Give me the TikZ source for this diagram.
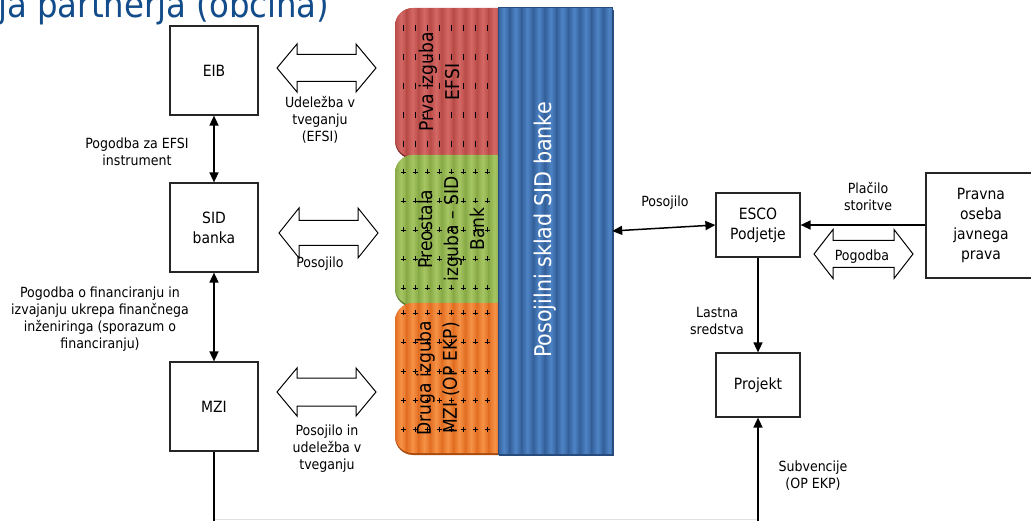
\documentclass[tikz,border=0pt]{standalone}
\usepackage{fontspec}
\setmainfont{DejaVu Sans Condensed}
\usetikzlibrary{arrows.meta}
\definecolor{titleblue}{RGB}{19,76,138}
\definecolor{redbase}{RGB}{186,76,72}
\definecolor{redlight}{RGB}{212,104,100}
\definecolor{reddark}{RGB}{130,45,42}
\definecolor{grnbase}{RGB}{136,170,70}
\definecolor{grnlight}{RGB}{166,198,100}
\definecolor{grndark}{RGB}{95,125,45}
\definecolor{orgbase}{RGB}{226,110,34}
\definecolor{orglight}{RGB}{246,146,70}
\definecolor{orgdark}{RGB}{170,75,15}
\definecolor{blubase}{RGB}{52,96,154}
\definecolor{blulight}{RGB}{78,132,198}
\definecolor{bludark}{RGB}{40,76,125}
\newcommand\lblfont{\fontsize{14}{17}\selectfont}
\newcommand\boxfont{\fontsize{15.5}{20}\selectfont}
\newcommand\rotfont{\fontsize{19}{26}\selectfont}
\newcommand\fundfont{\fontsize{23}{26}\selectfont}
\newcommand\titlefont{\fontsize{36}{36}\selectfont}
\tikzset{
  box/.style={draw=black!85, line width=1.2pt, fill=white, align=center, font=\boxfont, inner sep=0pt},
  lbl/.style={align=center, font=\lblfont, inner sep=0pt},
  conn/.style={line width=1.5pt, black},
  bitip/.style={{Triangle[length=10pt,width=9pt]}-{Triangle[length=10pt,width=9pt]}},
  onetip/.style={-{Triangle[length=10pt,width=9pt]}},
  rottext/.style={rotate=90, align=center, font=\rotfont, inner sep=0pt},
  blk/.style={draw=black, line width=1pt, fill=white, line join=miter}
}
% colour block: y1, y2, base, light, dark
\newcommand\colblock[5]{%
  \fill[#5, rounded corners=18pt] (395,#1+2) rectangle (612,#2+2);
  \begin{scope}
    \clip[rounded corners=18pt] (395,#1) rectangle (612,#2);
    \fill[#3] (395,#1) rectangle (612,#2);
    \foreach \i in {0,...,18} {\shade[left color=#3, right color=#3, middle color=#4] (395+\i*11.7,#1) rectangle (406.7+\i*11.7,#2);}
  \end{scope}}
% plus grid: first row y, number of rows-1
\newcommand\plusgrid[2]{%
  \foreach \i in {0,...,7} {\foreach \j in {0,...,#2} {
    \draw[line width=0.5pt, black] (403+\i*12,#1+\j*29) +(-2.5,0) -- +(2.5,0) +(0,-2.5) -- +(0,2.5);}}}
% double block arrow: x1, x2, yc, head half, shaft half, head length
\newcommand\blkarrow[6]{%
  \draw[blk] (#1,#3) -- (#1+#6,#3-#4) -- (#1+#6,#3-#5) -- (#2-#6,#3-#5) -- (#2-#6,#3-#4) -- (#2,#3)
    -- (#2-#6,#3+#4) -- (#2-#6,#3+#5) -- (#1+#6,#3+#5) -- (#1+#6,#3+#4) -- cycle;}
\begin{document}
\begin{tikzpicture}[x=1pt,y=-1pt]
\useasboundingbox (0,0) rectangle (1031,521);
\clip (0,0) rectangle (1031,521);
\fill[white] (0,0) rectangle (1031,521);

% title (cut at the top edge, as in the slide)
\node[anchor=base west, inner sep=0pt, text=titleblue, font=\titlefont] (title) at (-2,18) {ja partnerja (občina)};

% coloured blocks
\colblock{8}{157}{redbase}{redlight}{reddark}
\foreach \i in {0,...,7} {\foreach \j in {0,...,4} {
  \draw[line width=0.5pt, black] (403+\i*12,28+\j*29) +(0,-3) -- +(0,3);}}
\colblock{155}{305}{grnbase}{grnlight}{grndark}
\plusgrid{172}{4}
\colblock{303}{453}{orgbase}{orglight}{orgdark}
\plusgrid{313}{4}

% fund block
\fill[bludark] (499,10) rectangle (614,456);
\node[minimum width=114pt, minimum height=446pt, inner sep=0pt] (fund) at (555,231) {};
\begin{scope}
  \clip (fund.north west) rectangle (fund.south east);
  \fill[blubase] (fund.north west) rectangle (fund.south east);
  \foreach \i in {0,...,9} {\shade[left color=blubase, right color=blubase, middle color=blulight] (498+\i*11.7,8) rectangle (509.7+\i*11.7,454);}
\end{scope}
\draw[bludark, line width=0.6pt] (fund.north west) rectangle (fund.south east);
\node[rotate=90, text=white, font=\fundfont, inner sep=0pt] (fundtext) at (545,230) {Posojilni sklad SID banke};

% block texts
\node[rottext] (t1) at (439,82) {Prva izguba\\EFSI};
\node[rottext] (t2) at (451,229) {Preostala\\izguba – SID\\Bank};
\node[rottext] (t3) at (438,378) {Druga izguba\\MZI (OP EKP)};

% block arrows
\blkarrow{277}{376}{68}{24}{13.5}{20}
\blkarrow{279}{378}{233}{25}{12.5}{20}
\blkarrow{277}{376}{392}{24}{14}{20}
\blkarrow{814}{913}{254}{24.5}{13.5}{19}

% boxes
\node[box, minimum width=88pt, minimum height=89pt] (eib) at (214,70.5) {EIB};
\node[box, minimum width=88pt, minimum height=89pt] (sid) at (214,227.5) {SID\\banka};
\node[box, minimum width=88pt, minimum height=89pt] (mzi) at (214,406.5) {MZI};
\node[box, minimum width=84pt, minimum height=64pt] (esco) at (758,225) {ESCO\\Podjetje};
\node[box, minimum width=84pt, minimum height=64pt] (proj) at (758,385) {Projekt};
\node[box, minimum width=110pt, minimum height=105pt] (pravna) at (981,225.5) {Pravna\\oseba\\javnega\\prava};

% connectors
\coordinate (bl) at (214,523);
\coordinate (br) at (758,523);
\draw[black!12, line width=1pt] (214,519.5) -- (758,519.5);
\draw[conn, bitip] (eib.south) -- (sid.north);
\draw[conn, bitip] (sid.south) -- (mzi.north);
\draw[conn] (mzi.south) -- (bl);
\draw[conn, onetip] (br) -- (proj.south);
\draw[conn, bitip] (fund.east) -- (esco.west);
\draw[conn, onetip] (pravna.west |- esco.east) -- (esco.east);
\draw[conn, onetip] (esco.south) -- (proj.north);

% labels
\node[lbl] (l1) at (137,151.5) {Pogodba za EFSI\\instrument};
\node[lbl] (l2) at (100,319.5) {Pogodba o financiranju in\\izvajanju ukrepa finančnega\\inženiringa (sporazum o\\financiranju)};
\node[lbl] (l3) at (320,120) {Udeležba v\\tveganju\\(EFSI)};
\node[lbl] (l4) at (320,264) {Posojilo};
\node[lbl] (l5) at (327,449) {Posojilo in\\udeležba v\\tveganju};
\node[lbl] (l6) at (665,203) {Posojilo};
\node[lbl] (l7) at (868,196.5) {Plačilo\\storitve};
\node[lbl] (l8) at (862,257) {Pogodba};
\node[lbl] (l9) at (717,320.5) {Lastna\\sredstva};
\node[lbl] (l10) at (813,475.5) {Subvencije\\(OP EKP)};
\end{tikzpicture}
\end{document}
